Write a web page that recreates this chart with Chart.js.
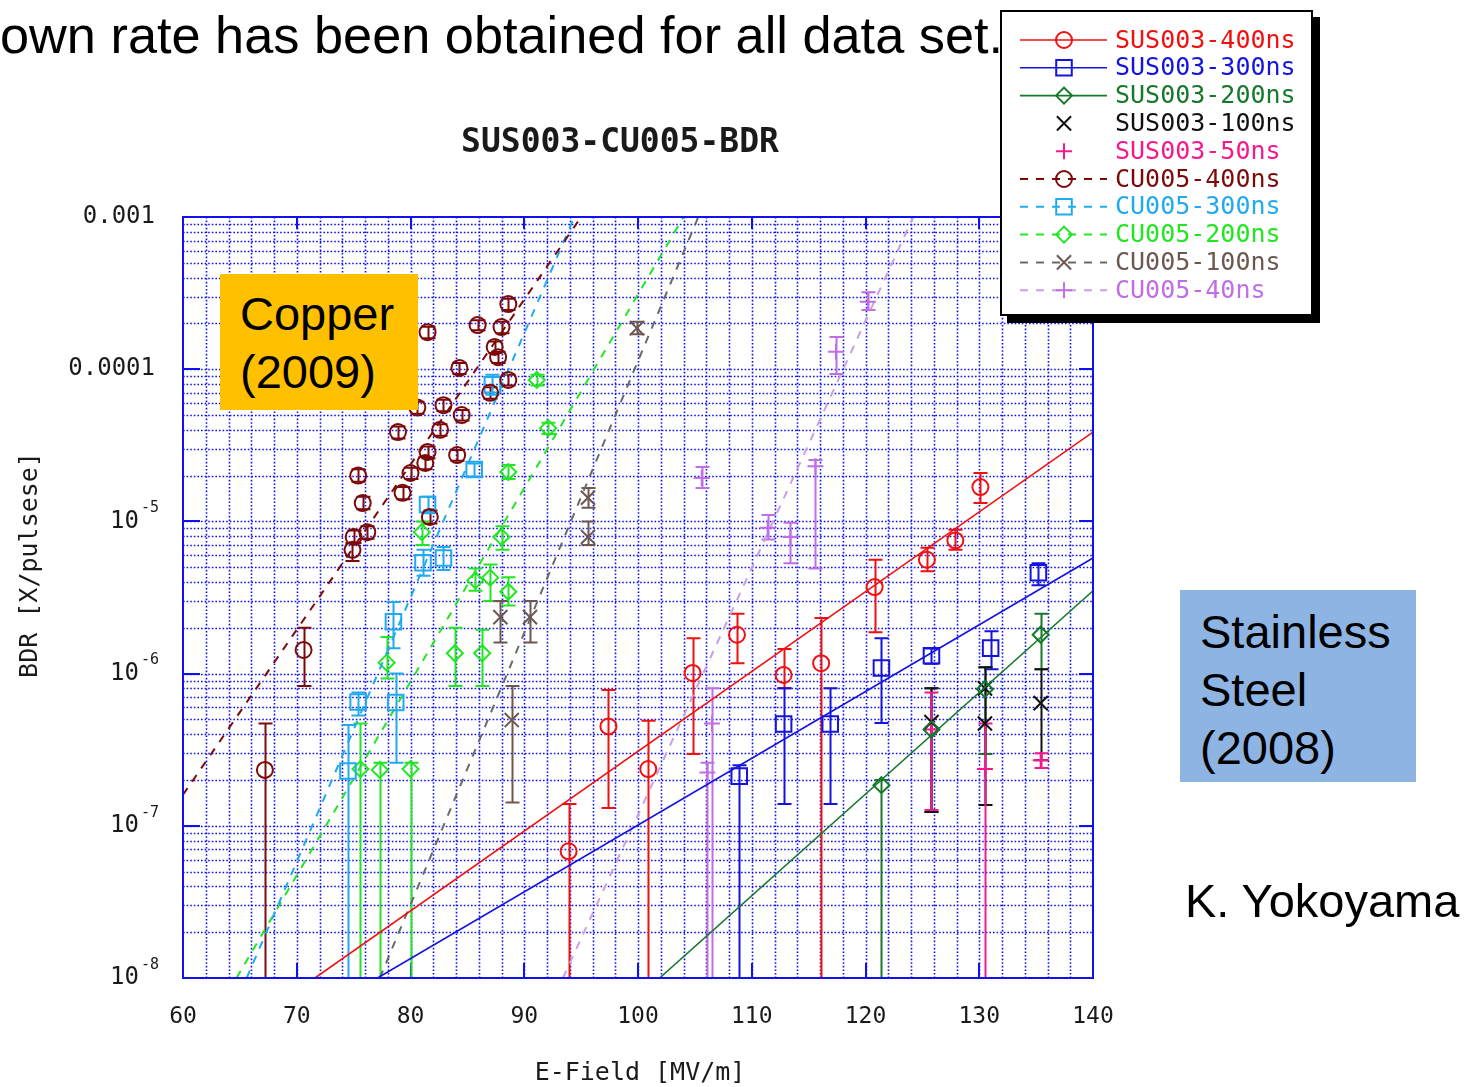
<!DOCTYPE html>
<html>
<head>
<meta charset="utf-8">
<title>SUS003-CU005-BDR</title>
<script src="https://cdn.jsdelivr.net/npm/chart.js@4.4.1/dist/chart.umd.min.js"></script>
<style>
  html, body { margin: 0; padding: 0; background: #fff; overflow: hidden; }
  #page { position: relative; width: 1467px; height: 1087px; overflow: hidden; }
  #chartBox { position: absolute; left: 0; top: 0; width: 1467px; height: 1087px; }
  .slideText { position: absolute; font-family: "Liberation Sans", Arial, sans-serif; color: #000; white-space: nowrap; }
  #lead { left: 0; top: 9px; font-size: 52.3px; line-height: 52px; }
  #copper { left: 220px; top: 274px; width: 198px; height: 136px; background: #ffc000;
            font-size: 47px; line-height: 58px; box-sizing: border-box; padding: 11px 0 0 20px; }
  #steel { left: 1180px; top: 590px; width: 236px; height: 192px; background: #8eb4e3;
           font-size: 47px; line-height: 58px; box-sizing: border-box; padding: 13px 0 0 20px; }
  #author { left: 1185px; top: 877px; font-size: 47px; line-height: 47px; }
</style>
</head>
<body>
<div id="page">
  <div id="chartBox"><canvas id="bdr"></canvas></div>
  <div class="slideText" id="lead">own rate has been obtained for all data set.</div>
  <div class="slideText" id="copper">Copper<br>(2009)</div>
  <div class="slideText" id="steel">Stainless<br>Steel<br>(2008)</div>
  <div class="slideText" id="author">K. Yokoyama</div>
</div>
<script>
// Breakdown rate vs. surface field, stainless steel (SUS003) and copper (CU005).
// Each measured point: [E-field MV/m, BDR, lower error, upper error]
const BELOW_AXIS = 5e-9;   // lower error bound that runs below the plotted range

const sus400 = [
  [93.9, 6.8e-8, BELOW_AXIS, 1.39e-7], [97.4, 4.5e-7, 1.31e-7, 7.8e-7],
  [100.9, 2.36e-7, BELOW_AXIS, 4.9e-7], [104.8, 1.01e-6, 2.96e-7, 1.71e-6],
  [108.7, 1.8e-6, 1.17e-6, 2.47e-6], [112.8, 9.8e-7, 8.0e-7, 1.45e-6],
  [116.1, 1.17e-6, BELOW_AXIS, 2.32e-6], [120.8, 3.7e-6, 1.87e-6, 5.6e-6],
  [125.4, 5.6e-6, 4.7e-6, 6.7e-6], [127.9, 7.5e-6, 6.5e-6, 8.8e-6],
  [130.1, 1.68e-5, 1.32e-5, 2.08e-5]
];
const sus300 = [
  [108.9, 2.12e-7, BELOW_AXIS, 2.5e-7], [112.8, 4.67e-7, 1.39e-7, 8.0e-7],
  [116.9, 4.67e-7, 1.39e-7, 8.0e-7], [121.4, 1.09e-6, 4.73e-7, 1.71e-6],
  [125.8, 1.31e-6, 1.16e-6, 1.46e-6], [131.0, 1.47e-6, 1.07e-6, 1.9e-6],
  [135.2, 4.6e-6, 3.8e-6, 5.3e-6]
];
const sus200 = [
  [121.4, 1.85e-7, BELOW_AXIS, 2.0e-7], [125.8, 4.3e-7, 1.23e-7, 8.0e-7],
  [130.5, 7.9e-7, 2.96e-7, 1.1e-6], [135.4, 1.8e-6, 1.07e-6, 2.47e-6]
];
const sus100 = [
  [125.8, 4.8e-7, 1.23e-7, 8.0e-7], [130.5, 8.0e-7, 1.37e-7, 1.1e-6],
  [130.5, 4.7e-7, 1.37e-7, 1.1e-6], [135.4, 6.4e-7, 2.7e-7, 1.07e-6]
];
const sus50 = [
  [125.8, 4.3e-7, 1.27e-7, 7.5e-7], [130.5, 2.36e-7, BELOW_AXIS, 4.7e-7],
  [135.4, 2.7e-7, 2.4e-7, 3.0e-7]
];
const cu400 = [
  [88.6, 2.68e-4, 2.45e-4, 2.9e-4], [85.9, 1.95e-4, 1.8e-4, 2.1e-4],
  [88.0, 1.89e-4, 1.72e-4, 2.05e-4], [81.5, 1.75e-4, 1.6e-4, 1.9e-4],
  [87.4, 1.4e-4, 1.28e-4, 1.52e-4], [87.7, 1.2e-4, 1.1e-4, 1.3e-4],
  [84.3, 1.02e-4, 9.3e-5, 1.1e-4], [88.6, 8.5e-5, 7.8e-5, 9.2e-5],
  [87.0, 7.0e-5, 6.4e-5, 7.6e-5], [82.9, 5.8e-5, 5.3e-5, 6.3e-5],
  [80.6, 5.6e-5, 5.1e-5, 6.1e-5], [84.5, 5.0e-5, 4.6e-5, 5.4e-5],
  [78.9, 3.86e-5, 3.5e-5, 4.2e-5], [82.6, 4.0e-5, 3.65e-5, 4.35e-5],
  [81.5, 2.86e-5, 2.6e-5, 3.1e-5], [84.1, 2.73e-5, 2.5e-5, 2.95e-5],
  [81.3, 2.42e-5, 2.2e-5, 2.65e-5], [80.0, 2.08e-5, 1.9e-5, 2.25e-5],
  [75.4, 2.0e-5, 1.82e-5, 2.2e-5], [79.3, 1.54e-5, 1.4e-5, 1.68e-5],
  [75.8, 1.32e-5, 1.2e-5, 1.45e-5], [81.7, 1.07e-5, 9.7e-6, 1.18e-5],
  [76.2, 8.5e-6, 7.7e-6, 9.3e-6], [75.0, 7.9e-6, 7.2e-6, 8.7e-6],
  [74.9, 6.5e-6, 5.5e-6, 7.2e-6], [70.6, 1.43e-6, 8.3e-7, 2.0e-6],
  [67.2, 2.33e-7, BELOW_AXIS, 4.7e-7]
];
const cu300 = [
  [87.2, 7.9e-5, 6.8e-5, 9.2e-5], [85.6, 2.19e-5, 1.97e-5, 2.4e-5],
  [81.5, 1.29e-5, 1.13e-5, 1.45e-5], [81.1, 5.35e-6, 4.4e-6, 6.5e-6],
  [82.9, 5.75e-6, 4.8e-6, 6.8e-6], [78.5, 2.19e-6, 1.47e-6, 2.95e-6],
  [75.4, 6.5e-7, 5.3e-7, 7.5e-7], [78.7, 6.45e-7, 2.6e-7, 1.0e-6],
  [74.5, 2.29e-7, BELOW_AXIS, 4.6e-7]
];
const cu200 = [
  [91.1, 8.5e-5, 7.8e-5, 9.2e-5], [92.1, 4.1e-5, 3.75e-5, 4.45e-5],
  [88.6, 2.11e-5, 1.9e-5, 2.35e-5], [88.0, 7.9e-6, 6.5e-6, 9.3e-6],
  [81.0, 8.5e-6, 7.0e-6, 1.0e-5], [85.7, 4.1e-6, 3.5e-6, 4.9e-6],
  [87.0, 4.27e-6, 3.0e-6, 5.2e-6], [88.6, 3.45e-6, 2.8e-6, 4.3e-6],
  [77.9, 1.18e-6, 9.3e-7, 1.74e-6], [83.9, 1.36e-6, 8.3e-7, 2.0e-6],
  [86.3, 1.36e-6, 8.3e-7, 1.94e-6], [75.6, 2.36e-7, BELOW_AXIS, 4.7e-7],
  [77.3, 2.33e-7, BELOW_AXIS, 2.6e-7], [80.0, 2.36e-7, BELOW_AXIS, 2.6e-7]
];
const cu100 = [
  [99.9, 1.86e-4, 1.7e-4, 2.05e-4], [95.6, 1.43e-5, 1.23e-5, 1.66e-5],
  [95.6, 7.9e-6, 7.0e-6, 1.0e-5], [87.9, 2.35e-6, 1.6e-6, 3.0e-6],
  [90.5, 2.35e-6, 1.6e-6, 3.0e-6], [88.9, 4.95e-7, 1.42e-7, 8.3e-7]
];
const cu40 = [
  [120.2, 2.77e-4, 2.45e-4, 3.2e-4], [117.4, 1.3e-4, 9.3e-5, 1.63e-4],
  [105.6, 1.93e-5, 1.66e-5, 2.28e-5], [111.4, 9.1e-6, 7.6e-6, 1.1e-5],
  [113.4, 7.9e-6, 5.3e-6, 9.8e-6], [115.6, 2.3e-5, 4.9e-6, 2.53e-5],
  [106.5, 4.7e-7, BELOW_AXIS, 8.0e-7], [106.1, 2.24e-7, BELOW_AXIS, 2.6e-7]
];

// Exponential fits (straight lines on the log axis), end points [E, BDR]
const sus400Fit = [[71.6, 1e-8], [140, 3.86e-5]];
const sus300Fit = [[77.1, 1e-8], [140, 5.75e-6]];
const sus200Fit = [[101.9, 1e-8], [140, 3.5e-6]];
const cu400Fit  = [[60, 1.6e-7], [95.0, 1e-3]];
const cu300Fit  = [[65.6, 1e-8], [94.4, 1e-3]];
const cu200Fit  = [[64.7, 1e-8], [104.0, 1e-3]];
const cu100Fit  = [[77.3, 1e-8], [105.3, 1e-3]];
const cu40Fit   = [[93.4, 1e-8], [124.2, 1e-3]];

// Axis ticks
const xMin = 60, xMax = 140, xStep = 2, xLabelEvery = 10;
const yDecades = [1e-8, 1e-7, 1e-6, 1e-5, 1e-4, 1e-3];
// decade labels: plain text, or base "10" with an exponent
const yDecadeBase = ['10', '10', '10', '10', '0.0001', '0.001'];
const yDecadeExp  = ['-8', '-7', '-6', '-5', '', ''];
const ySubSteps = [1, 2, 3, 4, 5, 6, 7, 8, 9];

const chartTitle = 'SUS003-CU005-BDR';
const xTitle = 'E-Field [MV/m]';
const yTitle = 'BDR [X/pulsese]';

const series = [
  { label: 'SUS003-400ns', pts: sus400, fit: sus400Fit, color: '#f01010', line: '#f01010', style: 'circle',   r: 8,  dashed: false },
  { label: 'SUS003-300ns', pts: sus300, fit: sus300Fit, color: '#1414dc', line: '#1414dc', style: 'rect',     r: 11, dashed: false },
  { label: 'SUS003-200ns', pts: sus200, fit: sus200Fit, color: '#16782a', line: '#16782a', style: 'rectRot',  r: 8,  dashed: false },
  { label: 'SUS003-100ns', pts: sus100, fit: null,      color: '#111111', line: null,      style: 'crossRot', r: 10, dashed: false },
  { label: 'SUS003-50ns',  pts: sus50,  fit: null,      color: '#f5198c', line: null,      style: 'cross',    r: 8,  dashed: false },
  { label: 'CU005-400ns',  pts: cu400,  fit: cu400Fit,  color: '#7d0a0a', line: '#7d0a0a', style: 'circle',   r: 8,  dashed: true },
  { label: 'CU005-300ns',  pts: cu300,  fit: cu300Fit,  color: '#20aaf0', line: '#20aaf0', style: 'rect',     r: 11, dashed: true },
  { label: 'CU005-200ns',  pts: cu200,  fit: cu200Fit,  color: '#22e622', line: '#22e622', style: 'rectRot',  r: 8,  dashed: true },
  { label: 'CU005-100ns',  pts: cu100,  fit: cu100Fit,  color: '#6c5850', line: '#6a6a6a', style: 'crossRot', r: 10, dashed: true },
  { label: 'CU005-40ns',   pts: cu40,   fit: cu40Fit,   color: '#c06ee6', line: '#c8a0e6', style: 'cross',    r: 8,  dashed: true }
];

const GRID_BLUE = '#1010f0';
const TEXT_DARK = '#1a1a1a';
const MONO = '"DejaVu Sans Mono", "Liberation Mono", monospace';
const DASH = [8, 8];

const datasets = [];
series.forEach((s) => {
  datasets.push({
    label: s.label,
    data: s.pts.map(p => ({ x: p[0], y: p[1], lo: p[2], hi: p[3] })),
    showLine: false,
    borderColor: s.color,
    backgroundColor: 'rgba(0,0,0,0)',
    pointStyle: s.style,
    pointRadius: s.r,
    pointBorderWidth: 2,
    errorBars: true
  });
  if (s.fit) {
    datasets.push({
      label: s.label + ' fit',
      data: s.fit.map(p => ({ x: p[0], y: p[1] })),
      showLine: true,
      borderColor: s.line,
      borderWidth: s.dashed ? 2 : 1.6,
      borderDash: s.dashed ? DASH : [],
      pointRadius: 0,
      fill: false
    });
  }
});

const decorPlugin = {
  id: 'decor',
  beforeDatasetsDraw(chart) {
    const { ctx, chartArea: a, scales: { x, y } } = chart;
    ctx.save();
    // dotted grid
    ctx.strokeStyle = GRID_BLUE;
    ctx.lineWidth = 1.6;
    ctx.setLineDash([1.6, 2.0]);
    ctx.beginPath();
    x.ticks.forEach(t => {
      if (t.value <= xMin || t.value >= xMax) return;
      const px = Math.round(x.getPixelForValue(t.value)) + 0.5;
      ctx.moveTo(px, a.top); ctx.lineTo(px, a.bottom);
    });
    y.ticks.forEach(t => {
      if (t.value <= y.min * 1.0001 || t.value >= y.max * 0.9999) return;
      const py = Math.round(y.getPixelForValue(t.value)) + 0.5;
      ctx.moveTo(a.left, py); ctx.lineTo(a.right, py);
    });
    ctx.stroke();
    ctx.setLineDash([]);
    // inner tick marks
    ctx.lineWidth = 2;
    ctx.beginPath();
    x.ticks.forEach(t => {
      if (t.value % xLabelEvery !== 0) return;
      const px = Math.round(x.getPixelForValue(t.value));
      ctx.moveTo(px, a.bottom); ctx.lineTo(px, a.bottom - 15);
      ctx.moveTo(px, a.top); ctx.lineTo(px, a.top + 12);
    });
    yDecades.forEach(v => {
      const py = Math.round(y.getPixelForValue(v));
      ctx.moveTo(a.left, py); ctx.lineTo(a.left + 17, py);
      ctx.moveTo(a.right, py); ctx.lineTo(a.right - 14, py);
    });
    ctx.stroke();

    // error bars, clipped to the plot area
    ctx.beginPath();
    ctx.rect(a.left, a.top, a.right - a.left, a.bottom - a.top);
    ctx.clip();
    ctx.lineWidth = 2;
    chart.data.datasets.forEach(ds => {
      if (!ds.errorBars) return;
      ctx.strokeStyle = ds.borderColor;
      ctx.beginPath();
      ds.data.forEach(p => {
        const px = Math.round(x.getPixelForValue(p.x)) + 0.5;
        const pLo = y.getPixelForValue(p.lo);
        const pHi = y.getPixelForValue(p.hi);
        ctx.moveTo(px, pLo); ctx.lineTo(px, pHi);
        ctx.moveTo(px - 7, pHi); ctx.lineTo(px + 7, pHi);
        ctx.moveTo(px - 7, pLo); ctx.lineTo(px + 7, pLo);
      });
      ctx.stroke();
    });
    ctx.restore();
  },
  afterDatasetsDraw(chart) {
    const { ctx, chartArea: a } = chart;
    ctx.save();
    ctx.strokeStyle = GRID_BLUE;
    ctx.lineWidth = 2;
    ctx.strokeRect(a.left, a.top, a.right - a.left, a.bottom - a.top);
    ctx.restore();
  },
  afterDraw(chart) {
    const { ctx, scales: { y } } = chart;
    ctx.save();
    ctx.fillStyle = TEXT_DARK;

    // y decade labels (exponent drawn raised and smaller)
    const labelRight = 157;
    yDecades.forEach((d, i) => {
      const py = y.getPixelForValue(d);
      ctx.textBaseline = 'middle';
      ctx.textAlign = 'right';
      if (yDecadeExp[i]) {
        ctx.font = '15px ' + MONO;
        const ew = ctx.measureText(yDecadeExp[i]).width;
        ctx.fillText(yDecadeExp[i], labelRight + 2, py - 13);
        ctx.font = '24px ' + MONO;
        ctx.fillText(yDecadeBase[i], labelRight - ew, py);
      } else {
        ctx.font = '24px ' + MONO;
        ctx.fillText(yDecadeBase[i], labelRight - 2, py);
      }
    });

    ctx.textAlign = 'center';
    ctx.textBaseline = 'middle';
    ctx.font = 'bold 33px ' + MONO;
    ctx.fillText(chartTitle, 620, 143);
    ctx.font = '25px ' + MONO;
    ctx.fillText(xTitle, 640, 1073);
    ctx.save();
    ctx.translate(30, 565);
    ctx.rotate(-Math.PI / 2);
    ctx.fillText(yTitle, 0, 0);
    ctx.restore();

    // legend box with drop shadow
    const lx = 1000, ly = 10, lw = 313, lh = 306;
    ctx.fillStyle = '#000';
    ctx.fillRect(lx + 7, ly + 7, lw, lh);
    ctx.fillStyle = '#fff';
    ctx.fillRect(lx, ly, lw, lh);
    ctx.strokeStyle = '#000';
    ctx.lineWidth = 2;
    ctx.strokeRect(lx + 1, ly + 1, lw - 2, lh - 2);

    ctx.textAlign = 'left';
    ctx.font = '25px ' + MONO;
    series.forEach((s, i) => {
      const cy = 40 + i * 27.8;
      if (s.line) {
        ctx.strokeStyle = s.line;
        ctx.lineWidth = s.dashed ? 2 : 1.6;
        ctx.setLineDash(s.dashed ? DASH : []);
        ctx.beginPath();
        ctx.moveTo(1020, cy); ctx.lineTo(1107, cy);
        ctx.stroke();
        ctx.setLineDash([]);
      }
      ctx.strokeStyle = s.color;
      ctx.fillStyle = 'rgba(0,0,0,0)';
      ctx.lineWidth = 2;
      Chart.helpers.drawPoint(ctx, { pointStyle: s.style, radius: s.r, rotation: 0, borderWidth: 2 }, 1064, cy);
      ctx.fillStyle = s.color;
      ctx.fillText(s.label, 1115, cy + 1);
    });
    ctx.restore();
  }
};

const yTickValues = [];
yDecades.forEach(d => {
  if (d >= 1e-3) { yTickValues.push(d); return; }
  ySubSteps.forEach(k => yTickValues.push(d * k));
});

new Chart(document.getElementById('bdr'), {
  type: 'scatter',
  data: { datasets },
  plugins: [decorPlugin],
  options: {
    responsive: true,
    maintainAspectRatio: false,
    animation: false,
    events: [],
    layout: { padding: { left: 0, top: 217, right: 374, bottom: 0 } },
    plugins: { legend: { display: false }, tooltip: { enabled: false }, title: { display: false } },
    scales: {
      x: {
        type: 'linear',
        min: xMin, max: xMax,
        grid: { display: false, drawTicks: false },
        border: { display: false },
        ticks: {
          stepSize: xStep,
          autoSkip: false,
          maxRotation: 0,
          padding: 25,
          color: TEXT_DARK,
          font: { family: MONO, size: 23 },
          callback: v => (v % xLabelEvery === 0 ? String(v) : '')
        },
        afterFit: s => { s.height = 109; }
      },
      y: {
        type: 'logarithmic',
        min: 1e-8, max: 1e-3,
        grid: { display: false, drawTicks: false },
        border: { display: false },
        afterBuildTicks: s => { s.ticks = yTickValues.map(v => ({ value: v })); },
        ticks: { display: false, autoSkip: false },
        afterFit: s => { s.width = 183; }
      }
    }
  }
});
</script>
</body>
</html>
